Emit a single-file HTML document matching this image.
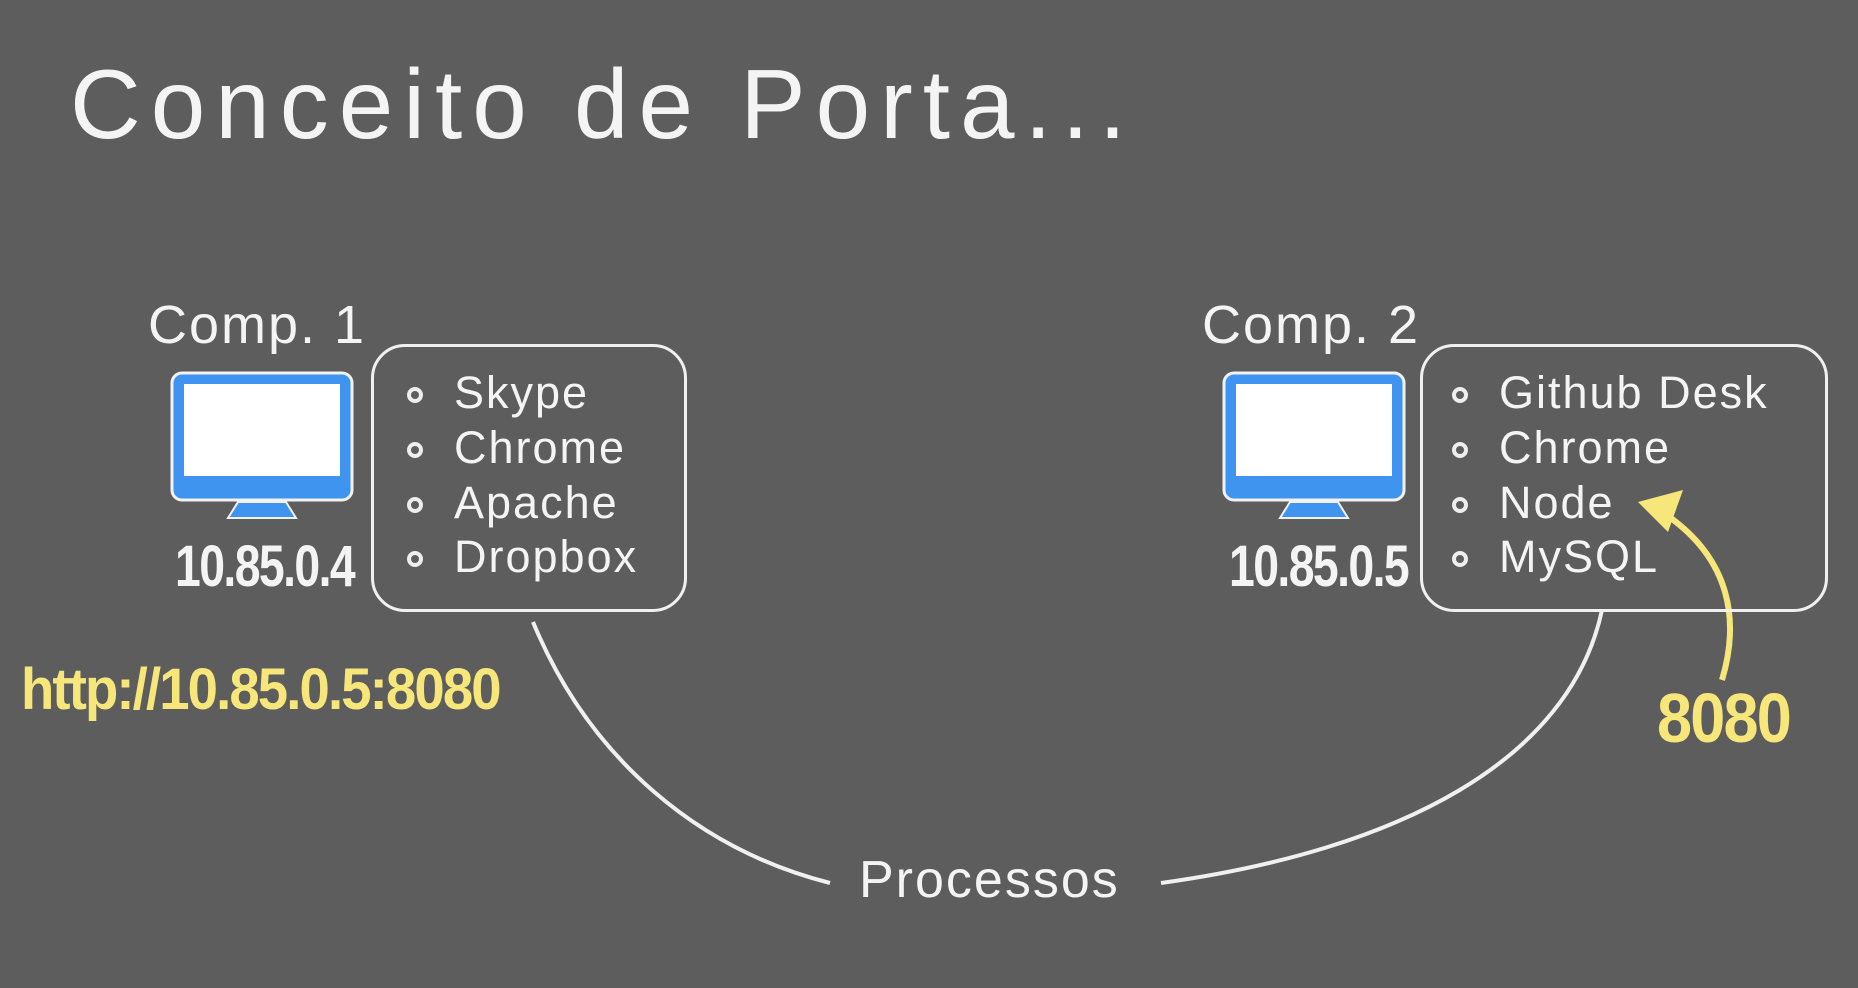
<!DOCTYPE html>
<html><head><meta charset="utf-8"><style>
html,body{margin:0;padding:0;background:#5d5d5d;}
body{width:1858px;height:988px;position:relative;overflow:hidden;font-family:"Liberation Sans",sans-serif;color:#f4f4f4;}
.t{position:absolute;white-space:nowrap;}
.title{left:70px;top:48px;font-size:98px;letter-spacing:10px;}
.comp{font-size:54px;letter-spacing:2px;}
.item{font-size:45px;letter-spacing:2px;}
.ip{font-weight:bold;font-size:58px;letter-spacing:-2px;transform-origin:0 0;transform:scaleX(0.8);}
.y{color:#f7e67a;}
.box{position:absolute;border:3px solid #f0f0f0;border-radius:34px;}
.bul{position:absolute;width:16px;height:16px;border-radius:50%;border:4px solid #eee;box-sizing:border-box;}
</style></head><body>
<div class="t title">Conceito de Porta...</div>

<svg style="position:absolute;left:0;top:0" width="1858" height="988">
 <rect x="172" y="373" width="180" height="127" rx="10" fill="#3f94f0" stroke="#f2f2f2" stroke-width="3"/>
 <rect x="184" y="384" width="156" height="92" fill="#ffffff"/>
 <polygon points="238,502 286,502 296,518 228,518" fill="#3f94f0" stroke="#f2f2f2" stroke-width="2"/>
 <rect x="1224" y="373" width="180" height="127" rx="10" fill="#3f94f0" stroke="#f2f2f2" stroke-width="3"/>
 <rect x="1236" y="384" width="156" height="92" fill="#ffffff"/>
 <polygon points="1290,502 1338,502 1348,518 1280,518" fill="#3f94f0" stroke="#f2f2f2" stroke-width="2"/>
 <path d="M533,622 C590,760 700,850 830,883" fill="none" stroke="#f0f0f0" stroke-width="4"/>
 <path d="M1161,883 C1400,850 1570,760 1602,610" fill="none" stroke="#f0f0f0" stroke-width="4"/>
 <path d="M1722,680 C1740,620 1730,560 1668,516" fill="none" stroke="#f7e67a" stroke-width="6"/>
 <polygon points="1638,502 1683,490 1668,532" fill="#f7e67a"/>
</svg>

<div class="t comp" style="left:148px;top:294px">Comp. 1</div>
<div class="t comp" style="left:1202px;top:294px">Comp. 2</div>

<div class="box" style="left:371px;top:344px;width:310px;height:262px"></div>
<div class="box" style="left:1420px;top:344px;width:402px;height:262px"></div>

<div class="bul" style="left:407px;top:387px"></div>
<div class="bul" style="left:407px;top:442px"></div>
<div class="bul" style="left:407px;top:497px"></div>
<div class="bul" style="left:407px;top:551px"></div>
<div class="t item" style="left:454px;top:367px">Skype</div>
<div class="t item" style="left:454px;top:422px">Chrome</div>
<div class="t item" style="left:454px;top:477px">Apache</div>
<div class="t item" style="left:454px;top:531px">Dropbox</div>

<div class="bul" style="left:1452px;top:387px"></div>
<div class="bul" style="left:1452px;top:442px"></div>
<div class="bul" style="left:1452px;top:497px"></div>
<div class="bul" style="left:1452px;top:551px"></div>
<div class="t item" style="left:1499px;top:367px">Github Desk</div>
<div class="t item" style="left:1499px;top:422px">Chrome</div>
<div class="t item" style="left:1499px;top:477px">Node</div>
<div class="t item" style="left:1499px;top:531px">MySQL</div>

<div class="t ip" style="left:175px;top:533px">10.85.0.4</div>
<div class="t ip" style="left:1229px;top:533px">10.85.0.5</div>
<div class="t ip y" style="left:21px;top:656px;font-size:58px;transform:scaleX(0.94)">http://10.85.0.5:8080</div>
<div class="t ip y" style="left:1657px;top:678px;font-size:70px;transform:scaleX(0.9)">8080</div>

<div class="t" style="left:859px;top:850px;font-size:52px;letter-spacing:2px">Processos</div>
</body></html>
